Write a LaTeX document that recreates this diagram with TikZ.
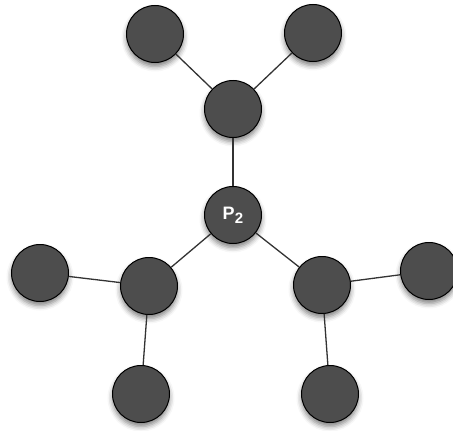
\documentclass[tikz,border=0pt]{standalone}
\usepackage{fontspec}
\newfontfamily\lblfont{Liberation Sans}
\usetikzlibrary{shadows.blur}
\definecolor{nodefill}{HTML}{4D4D4D}
\definecolor{edgecol}{HTML}{333333}
\begin{document}
\begin{tikzpicture}[x=1pt,y=-1pt,
  ball/.style={circle, draw=black, line width=1pt, fill=nodefill, minimum size=57pt, inner sep=0pt,
    blur shadow={shadow xshift=0pt, shadow yshift=-4pt, shadow blur radius=5pt, shadow opacity=50}},
  link/.style={draw=edgecol, line width=1.3pt},
  lbl/.style={text=white, font=\lblfont\bfseries\fontsize{18}{18}\selectfont}]
\useasboundingbox (0,0) rectangle (453,431);
\node[ball] (tl) at (155,34) {};
\node[ball] (tr) at (313,33) {};
\node[ball] (um) at (233,109) {};
\node[ball, lbl] (p2) at (233,215) {P\kern0.3pt\raisebox{-4pt}{\fontsize{15}{15}\selectfont 2}};
\node[ball] (ll) at (40,273) {};
\node[ball] (l) at (149,286) {};
\node[ball] (lb) at (141,394) {};
\node[ball] (r) at (322,285) {};
\node[ball] (rr) at (429,271) {};
\node[ball] (rb) at (330,394) {};
\draw[link] (tl) -- (um);
\draw[link] (tr) -- (um);
\draw[link] (um) -- (p2);
\draw[link] (p2) -- (l);
\draw[link] (p2) -- (r);
\draw[link] (ll) -- (l);
\draw[link] (l) -- (lb);
\draw[link] (r) -- (rr);
\draw[link] (r) -- (rb);
\end{tikzpicture}
\end{document}
